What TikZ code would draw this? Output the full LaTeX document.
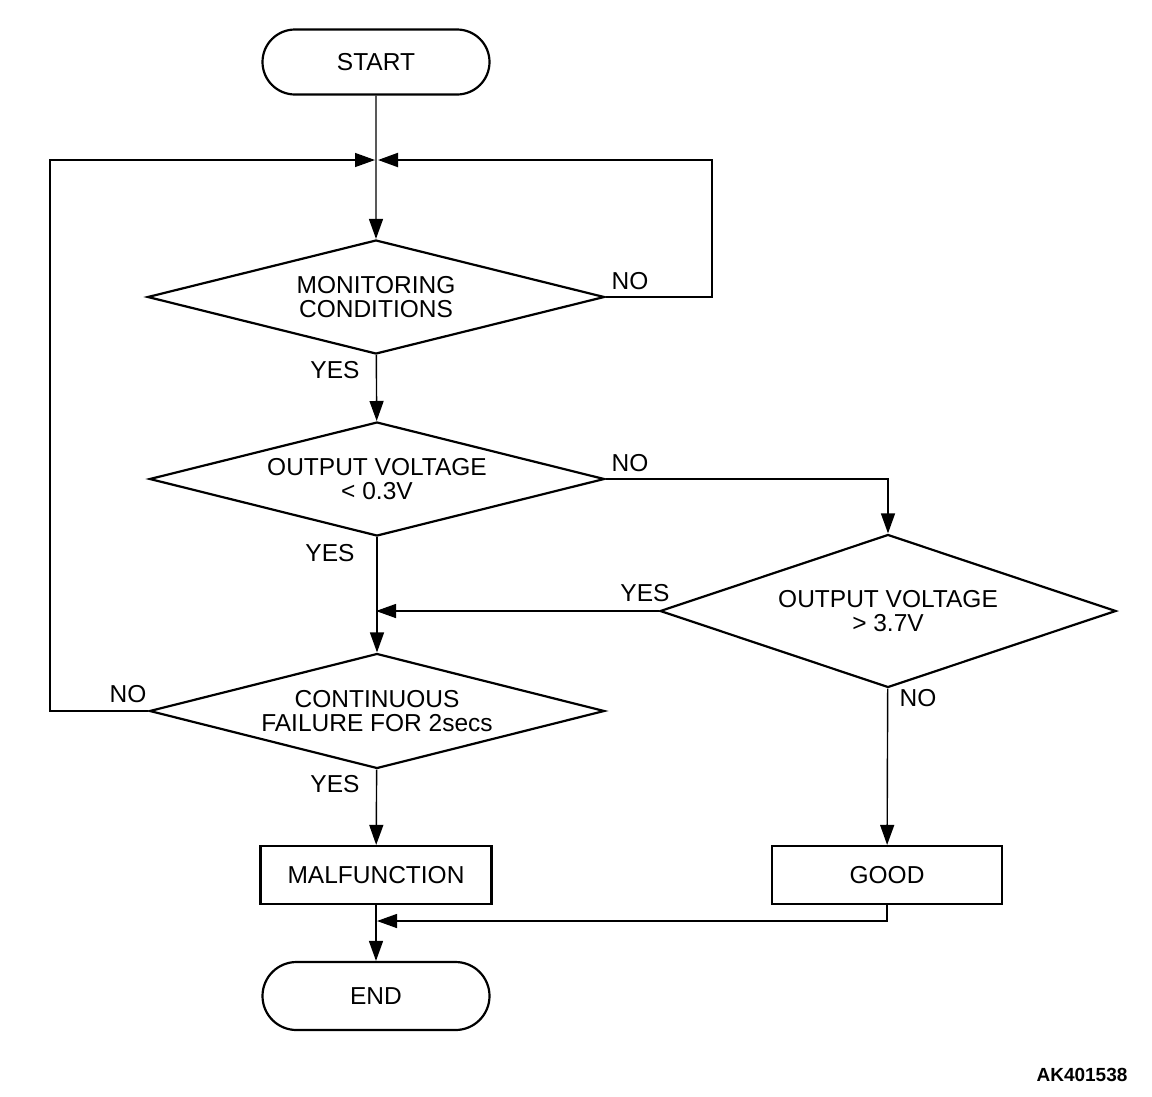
\documentclass[tikz,border=0pt]{standalone}
\usepackage{fontspec}
\setmainfont{Liberation Sans}
\usepackage{tikz}
\usetikzlibrary{shapes.geometric,shapes.misc,arrows.meta}

\begin{document}
\begin{tikzpicture}[x=1pt,y=-1pt]
	\useasboundingbox (0,0) rectangle (1152,1096);
	\begin{scope}[every node/.style={draw,line width=2.2pt,align=center,inner sep=0pt,
	              font=\fontsize{24.5}{24}\selectfont}]
    \node[rounded rectangle,minimum width=227pt,minimum height=65pt] (S) at (376,62) {START};
    \node[diamond,aspect=4,minimum width=457pt,minimum height=114pt] (MC) at (376,297) {MONITORING\\CONDITIONS};
    \node[diamond,aspect=4,minimum width=455pt,minimum height=114pt] (LO) at (377,479) {OUTPUT VOLTAGE\\\textless{} 0.3V};
    \node[diamond,aspect=3,minimum width=456pt,minimum height=153pt] (HI) at (888,611) {OUTPUT VOLTAGE\\\textgreater{} 3.7V};
    \node[diamond,aspect=4,minimum width=455pt,minimum height=115pt] (CF) at (377,711) {CONTINUOUS\\FAILURE FOR 2secs};
    \node[rectangle,minimum width=231pt,minimum height=58pt] (M) at (376,875) {MALFUNCTION};
    \node[rectangle,minimum width=230pt,minimum height=58pt] (G) at (887,875) {GOOD};
    \node[rounded rectangle,minimum width=227pt,minimum height=68pt] (E) at (376,996) {\raisebox{-3pt}{END}};
	\end{scope}

	\coordinate (J1) at (376,160);
	\coordinate (J2) at (376,611);
	\coordinate (J3) at (376,921);

	\begin{scope}[>={Triangle[length=20pt,width=14pt]},
              every node/.style={font=\fontsize{24.5}{24}\selectfont},
              every edge/.style={draw,line width=1.4pt}]
    \path [->] (S) edge (MC);
    \path [->] (MC) edge (LO);
    \path [->] (LO) edge (CF);
    \path [->] (CF) edge (M);
    \path [->] (M) edge (E);
    \path [->] (HI) edge (G);
    \path [->] (HI.west) edge (J2);
    \path [->] (LO.east) edge [to path={-| (\tikztotarget)}] (HI.north);
    \path [->] (MC.east) edge [line width=2pt,to path={-- (712,297) |- (\tikztotarget)}] ([xshift=2pt]J1);
    \path [->] (CF.west) edge [to path={-- (50,711) |- (\tikztotarget)}] ([xshift=-1pt]J1);
    \path [->] (G.south) edge [to path={|- (\tikztotarget)}] ([xshift=1pt]J3);

    \node at (630,281) {NO};
    \node at (335,370) {YES};
    \node at (630,463) {NO};
    \node at (330,553) {YES};
    \node at (645,593) {YES};
    \node at (918,698) {NO};
    \node at (128,694) {NO};
    \node at (335,784) {YES};
\end{scope}

	\node[font=\fontsize{19}{20}\selectfont\bfseries] (ID) at (1082,1075) {AK401538};
\end{tikzpicture}
\end{document}
